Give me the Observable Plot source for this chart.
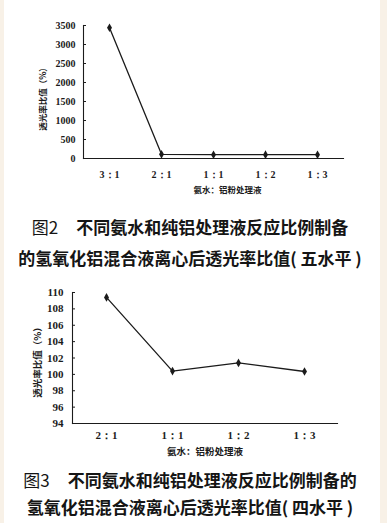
<!DOCTYPE html>
<html><head><meta charset="utf-8">
<script src="https://cdn.jsdelivr.net/npm/d3@7"></script>
<script src="https://cdn.jsdelivr.net/npm/@observablehq/plot@0.6"></script>
<style>
html,body{margin:0;padding:0;}
body{width:387px;height:523px;background:#f8f1e7;position:relative;overflow:hidden;}
#panel{position:absolute;left:4px;top:0;width:376px;height:523px;background:#fff;}
.chart{position:absolute;left:0;}
.cap{position:absolute;left:0;width:380px;text-align:center;font-family:"Noto Sans CJK SC";font-weight:700;font-size:17px;line-height:20px;color:#151515;white-space:nowrap;}
.fig{font-weight:400;}
.gap{display:inline-block;width:18px;}
</style></head><body>
<div id="panel"></div>
<div id="c1" class="chart" style="top:0px"></div>
<div id="c2" class="chart" style="top:270px"></div>
<div class="cap" style="top:217px"><span class="fig">图2</span><span class="gap"></span>不同氨水和纯铝处理液反应比例制备</div>
<div class="cap" style="top:248px">的氢氧化铝混合液离心后透光率比值( 五水平 )</div>
<div class="cap" style="top:470px"><span class="fig">图3</span><span class="gap"></span>不同氨水和纯铝处理液反应比例制备的</div>
<div class="cap" style="top:497px">氢氧化铝混合液离心后透光率比值( 四水平 )</div>
<script>
// ---- data ----
const cats1 = ["3：1", "2：1", "1：1", "1：2", "1：3"];
const vals1 = [3440, 109, 100, 101, 100];
const yTicks1 = [0, 500, 1000, 1500, 2000, 2500, 3000, 3500];

const cats2 = ["2：1", "1：1", "1：2", "1：3"];
const vals2 = [109.4, 100.4, 101.4, 100.35];
const yTicks2 = [94, 96, 98, 100, 102, 104, 106, 108, 110];

const xTitle = "氨水：铝粉处理液";
const yTitle = "透光率比值（%）";

const ink = "#1b1b1b";
const serif = "'Liberation Serif', 'Times New Roman', serif";
const cjk = "'Noto Sans CJK SC', sans-serif";

function chart(o) {
  const data = o.cats.map((c, i) => ({c, v: o.vals[i]}));
  return Plot.plot({
    width: 387, height: o.height,
    marginTop: o.mt, marginBottom: o.mb, marginLeft: o.ml, marginRight: o.mr,
    style: {fontFamily: serif, fontWeight: "bold", fontSize: o.tfs + "px", color: ink, background: "transparent"},
    x: {type: "point", domain: o.cats, padding: 0.5},
    y: {domain: o.yDomain},
    marks: [
      Plot.frame({anchor: "left", stroke: ink, strokeWidth: 1.1}),
      Plot.frame({anchor: "bottom", stroke: ink, strokeWidth: 1.1}),
      Plot.axisY({ticks: o.yTicks, tickSize: -3, tickPadding: o.ypad, label: null, tickFormat: d => String(d), stroke: ink,
                  fontFamily: serif, fontWeight: "bold", fontSize: o.tfs}),
      Plot.axisX({tickSize: 0, tickPadding: o.xpad, label: null, fontFamily: serif, fontWeight: "bold", fontSize: o.tfs}),
      Plot.line(data, {x: "c", y: "v", stroke: ink, strokeWidth: 1.3}),
      Plot.dot(data, {x: "c", y: "v", symbol: "diamond", r: 2.6, fill: ink}),
      Plot.text([xTitle], {text: d => d, frameAnchor: "bottom", dx: o.xtdx, dy: o.xtdy, lineAnchor: "middle", textAnchor: "middle",
                           fontFamily: cjk, fontWeight: "bold", fontSize: o.afs}),
      Plot.text([yTitle], {text: d => d, frameAnchor: "left", rotate: -90, dx: o.ytdx, dy: o.ytdy, lineAnchor: "middle", textAnchor: "middle",
                           fontFamily: cjk, fontWeight: "bold", fontSize: o.afs})
    ]
  });
}

document.getElementById("c1").append(chart({
  cats: cats1, vals: vals1, yTicks: yTicks1, yDomain: [0, 3500],
  height: 205, mt: 25, mb: 47, ml: 83, mr: 44,
  tfs: 10, ypad: 11, xpad: 12, afs: 8.5,
  xtdx: 14, xtdy: 32, ytdx: -40, ytdy: 5
}));
document.getElementById("c2").append(chart({
  cats: cats2, vals: vals2, yTicks: yTicks2, yDomain: [94, 110],
  height: 190, mt: 22, mb: 37, ml: 72, mr: 50,
  tfs: 11, ypad: 12, xpad: 8, afs: 9.5,
  xtdx: 0, xtdy: 28, ytdx: -35, ytdy: 2
}));
</script>
</body></html>
